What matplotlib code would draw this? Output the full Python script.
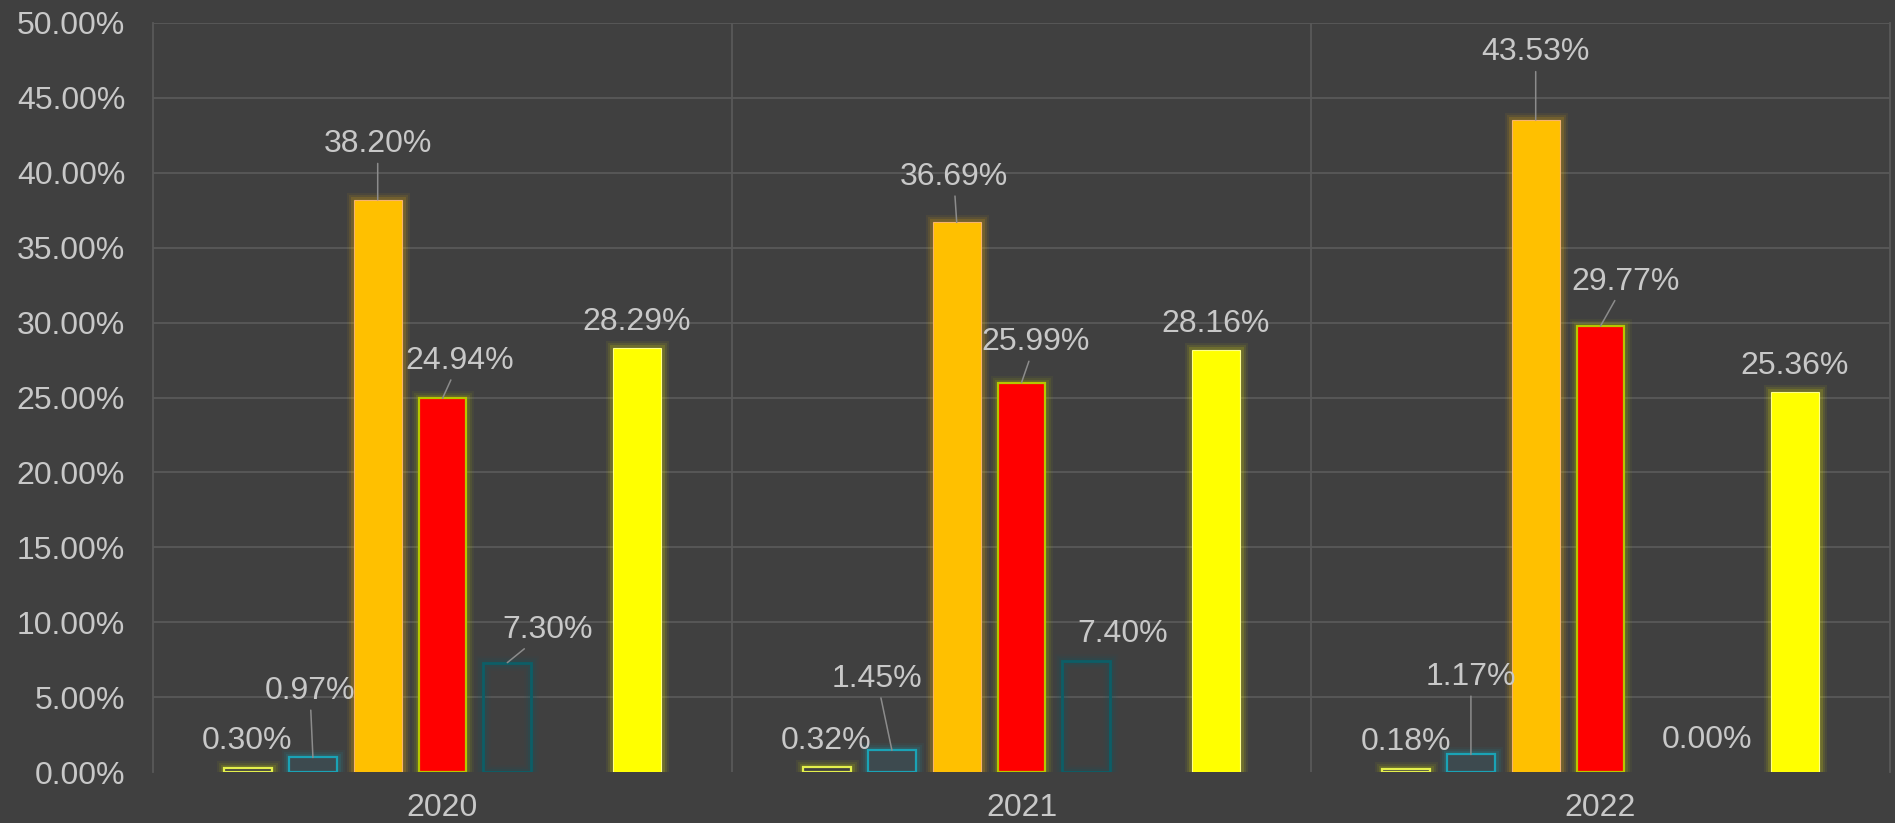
import numpy as np
import matplotlib
matplotlib.use("Agg")
import matplotlib.pyplot as plt
import matplotlib.patheffects as pe

years = ["2020", "2021", "2022"]
s_a = [0.30, 0.32, 0.18]
s_b = [0.97, 1.45, 1.17]
s_c = [38.20, 36.69, 43.53]
s_d = [24.94, 25.99, 29.77]
s_e = [7.30, 7.40, 0.00]
s_f = [None, None, None]  # series with no data, still takes a slot
s_g = [28.29, 28.16, 25.36]
series = [s_a, s_b, s_c, s_d, s_e, s_f, s_g]
yticks = [0, 5, 10, 15, 20, 25, 30, 35, 40, 45, 50]

# styles per series: face, edge, edge width (pt)
faces = ["#404040", "#3d4a4f", "#FFC000", "#FF0000", "none", "none", "#FFFF00"]
edges = ["#E4F04C", "#1AA3B6", "#F7B46E", "#B7C700", "#0D5E67", "none", "#FFFF8A"]
lws = [1.6, 1.6, 0.8, 1.6, 2.0, 0, 0.8]
glows = ["#C9D600", "#1AA3B6", "#FFC000", "#B7C700", "#0D5E67", "none", "#F0F000"]

# label offsets from the bar top in pixels (dx, dy), and whether a leader line shows
lab_off = [
    [(-1, 30), (-1, 30), (0, 31)],
    [(-3, 70), (-15, 75), (0, 81)],
    [(0, 59), (-3, 49), (0, 71)],
    [(17, 41), (14, 44), (25, 48)],
    [(40, 36), (36, 31), (42, 35)],
    [None, None, None],
    [(0, 30), (0, 30), (0, 30)],
]
leaders = [
    [False, False, False],
    [True, True, True],
    [True, True, True],
    [True, True, True],
    [True, False, False],
    [False, False, False],
    [False, False, False],
]

bg = "#404040"
grid_c = "#595959"
txt_c = "#C8C8C8"
plt.rcParams["font.family"] = ["Liberation Sans", "DejaVu Sans"]

fig = plt.figure(figsize=(18.95, 8.23), dpi=100, facecolor=bg)
ax = fig.add_axes([153 / 1895, 1 - 772 / 823, (1890 - 153) / 1895, (772 - 23) / 823])
ax.set_facecolor(bg)

slot = 0.1119
bw = 0.0829
x = np.arange(len(years))
px2pt = 72 / 100

for i, vals in enumerate(series):
    if all(v is None for v in vals):
        continue
    xs = x + (i - 3) * slot
    bars = ax.bar(xs, vals, width=bw, color=faces[i], edgecolor=edges[i], linewidth=lws[i], zorder=3)
    for j, b in enumerate(bars):
        # soft glow round each bar
        b.set_path_effects([
            pe.Stroke(linewidth=15 * px2pt, foreground=glows[i], alpha=0.06),
            pe.Stroke(linewidth=11 * px2pt, foreground=glows[i], alpha=0.09),
            pe.Stroke(linewidth=7 * px2pt, foreground=glows[i], alpha=0.14),
            pe.Normal(),
        ])
        if vals[j] == 0:
            b.set_visible(False)
        dx, dy = lab_off[i][j]
        arrow = None
        if leaders[i][j]:
            arrow = dict(arrowstyle="-", color="#8C8C8C", lw=1.1, shrinkA=1, shrinkB=0)
        ax.annotate("%.2f%%" % vals[j], xy=(xs[j], vals[j]), xytext=(dx * px2pt, dy * px2pt),
                    textcoords="offset points", ha="center", va="center_baseline",
                    fontsize=23, color=txt_c, arrowprops=arrow, zorder=5)

ax.set_xlim(-0.5, 2.5)
ax.set_ylim(0, 50)
ax.set_yticks(yticks)
ax.set_yticklabels(["%.2f%%" % t for t in yticks])
ax.set_xticks(x)
ax.set_xticklabels(years)
ax.set_xticks([0.5, 1.5], minor=True)
ax.tick_params(axis="both", which="both", length=0, colors=txt_c, labelsize=23)
ax.tick_params(axis="y", pad=20)
ax.tick_params(axis="x", pad=15)

ax.yaxis.grid(True, color=grid_c, lw=1.3, zorder=0)
ax.xaxis.grid(True, which="minor", color=grid_c, lw=1.3, zorder=0)
ax.xaxis.grid(False, which="major")
ax.get_ygridlines()[0].set_visible(False)
ax.set_axisbelow(True)
for s in ["top", "bottom"]:
    ax.spines[s].set_visible(False)
for s in ["left", "right"]:
    ax.spines[s].set_color(grid_c)
    ax.spines[s].set_linewidth(1.3)

fig.savefig("out.png", dpi=100, facecolor=bg)
